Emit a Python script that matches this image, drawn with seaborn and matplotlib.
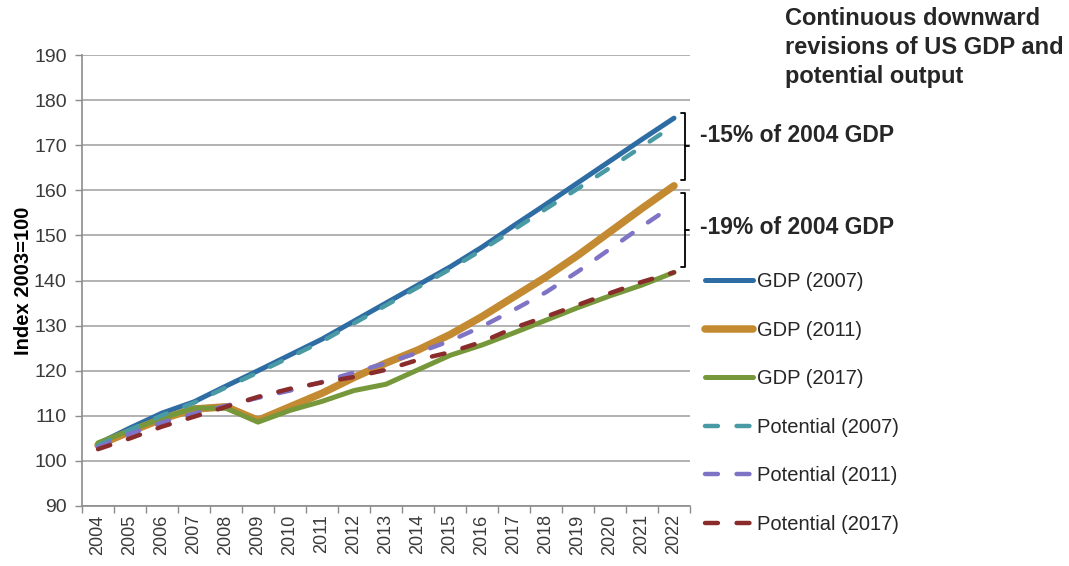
import numpy as np
import matplotlib
matplotlib.use('Agg')
import matplotlib.pyplot as plt
import matplotlib.transforms as mtransforms
import seaborn as sns

# Index 2003=100
years = list(range(2004, 2023))
gdp_2007 = [103.8, 107.3, 110.6, 113.1, 116.6, 120.0, 123.5, 127.0, 131.0, 135.0,
            139.0, 143.0, 147.4, 152.2, 156.9, 161.7, 166.5, 171.3, 176.0]
gdp_2011 = [103.5, 106.5, 109.3, 111.5, 112.0, 109.0, 112.0, 115.0, 118.5, 121.7,
            124.6, 128.0, 132.0, 136.4, 140.8, 145.6, 150.8, 156.0, 161.0]
gdp_2017 = [104.0, 106.8, 109.5, 111.7, 111.7, 108.6, 111.2, 113.2, 115.6, 117.0,
            120.2, 123.4, 125.7, 128.4, 131.2, 134.0, 136.6, 139.0, 141.8]
pot_2007 = [103.4, 106.9, 110.1, 112.9, 116.3, 119.6, 123.0, 126.5, 130.5, 134.5,
            138.5, 142.5, 146.8, 151.3, 155.9, 160.4, 165.0, 169.7, 174.4]
pot_2011 = [103.0, 106.0, 108.5, 110.5, 112.2, 114.0, 115.6, 117.5, 119.6, 121.7,
            124.0, 126.6, 129.8, 133.5, 137.4, 142.0, 147.0, 152.0, 156.8]
pot_2017 = [102.6, 105.0, 107.6, 109.8, 112.0, 114.2, 116.0, 117.4, 118.6, 120.2,
            122.4, 124.1, 126.4, 129.5, 132.0, 134.6, 137.2, 139.7, 141.8]

dash = (0, (2.9, 4.2))
series = [
    ('GDP (2007)', gdp_2007, '#2E6DA4', 3.6, None),
    ('GDP (2011)', gdp_2011, '#C38A31', 5.4, None),
    ('GDP (2017)', gdp_2017, '#76983A', 3.6, None),
    ('Potential (2007)', pot_2007, '#4A9AA5', 3.2, dash),
    ('Potential (2011)', pot_2011, '#7F73C6', 3.2, dash),
    ('Potential (2017)', pot_2017, '#8B2C2C', 3.2, dash),
]

sns.set_theme(style='white')
plt.rcParams['font.family'] = ['Liberation Sans', 'DejaVu Sans']

W, H = 1069, 566
fig = plt.figure(figsize=(W / 100, H / 100), dpi=100)
ax = fig.add_axes([82 / W, 1 - 506 / H, (690 - 82) / W, (506 - 55) / H])

x = np.arange(len(years))
for name, vals, color, lw, ls in series:
    kw = dict(linestyle=ls, dash_capstyle='round') if ls else dict(solid_capstyle='round')
    sns.lineplot(x=x, y=vals, ax=ax, color=color, linewidth=lw, label=name, **kw)

# axes styling (Excel look)
ax.set_xlim(-0.5, len(years) - 0.5)
ax.set_ylim(90, 190)
ax.set_yticks(range(90, 191, 10))
ax.set_xticks(x)
ax.set_xticklabels([str(y) for y in years], rotation=90)
ax.set_xticks(np.arange(-0.5, len(years), 1), minor=True)
ax.tick_params(axis='x', which='major', length=0, labelsize=13, labelcolor='#3a3a3a', pad=6)
ax.tick_params(axis='x', which='minor', length=5, width=1, color='#8c8c8c', direction='out', bottom=True)
ax.tick_params(axis='y', length=5, width=1, color='#8c8c8c', direction='out', left=True,
               labelsize=14, labelcolor='#3a3a3a', pad=6)
ax.grid(axis='y', color='#a6a6a6', linewidth=1.2)
ax.grid(axis='x', visible=False)
ax.set_axisbelow(True)
for s in ['top', 'right']:
    ax.spines[s].set_visible(False)
for s in ['left', 'bottom']:
    ax.spines[s].set_color('#8c8c8c')
    ax.spines[s].set_linewidth(1.2)
ax.set_ylabel('Index 2003=100', fontsize=14.5, fontweight='bold', color='black', labelpad=1)
ax.set_xlabel('')

# brackets showing the revisions
def bracket(top, bottom):
    xb = len(years) - 1 + 0.33
    mid = (top + bottom) / 2
    ax.plot([xb - 0.12, xb, xb, xb - 0.12], [top, top, bottom, bottom],
            color='black', lw=1.3, clip_on=False, solid_joinstyle='round')
    ax.plot([xb, xb + 0.13], [mid, mid], color='black', lw=1.3, clip_on=False)
    return mid

mid1 = bracket(gdp_2007[-1] + 1.2, gdp_2011[-1] + 1.3)
mid2 = bracket(gdp_2011[-1] - 1.7, gdp_2017[-1] + 1.1)
trans = mtransforms.blended_transform_factory(ax.transAxes, ax.transData)
ax.text(1.0164, mid1 + 2.3, '-15% of 2004 GDP', transform=trans, fontsize=16.5,
        fontweight='bold', va='center', ha='left')
ax.text(1.0164, mid2 + 0.7, '-19% of 2004 GDP', transform=trans, fontsize=16.5,
        fontweight='bold', va='center', ha='left')

# legend on the right
handles, labels = ax.get_legend_handles_labels()
ax.get_legend().remove()
fig.legend(handles, labels, loc='upper left', bbox_to_anchor=(705 / W, 1 - 272 / H),
           frameon=False, fontsize=14.5, handlelength=2.4, handletextpad=0.2,
           labelspacing=1.47, borderpad=0, borderaxespad=0)

fig.text(785 / W, 1 - 7 / H, 'Continuous downward\nrevisions of US GDP and\npotential output',
         fontsize=17, fontweight='bold', va='top', ha='left', linespacing=1.32)

fig.savefig('out.png', dpi=100)
